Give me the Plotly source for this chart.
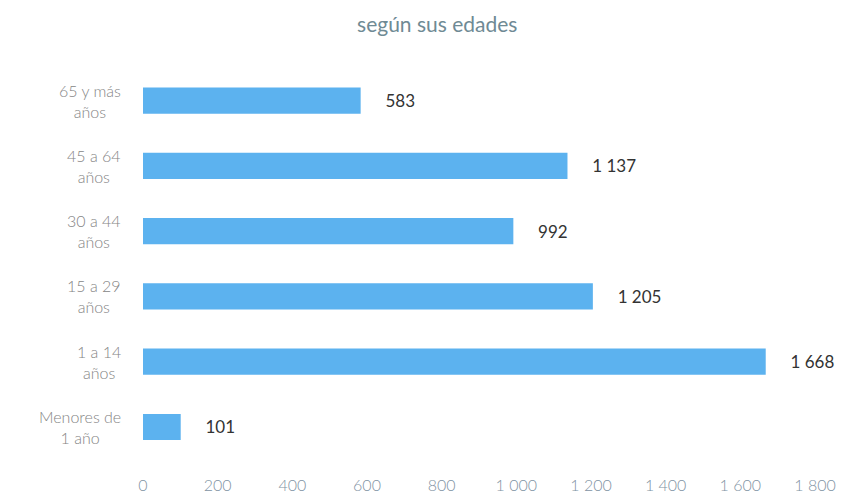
import plotly.graph_objects as go

edades = ["Menores de<br>1 año", "1 a 14<br>años", "15 a 29<br>años", "30 a 44<br>años",
          "45 a 64<br>años", "65 y más<br>años"]
personas = [101, 1668, 1205, 992, 1137, 583]
ticks_x = [0, 200, 400, 600, 800, 1000, 1200, 1400, 1600, 1800]

fig = go.Figure(go.Bar(
    y=edades, x=personas, orientation="h",
    marker=dict(color="#5CB2EF", line=dict(width=0)),
    texttemplate="     %{x:,d}", textposition="outside",
    textfont=dict(family="Lato", size=17, color="#333333"),
    cliponaxis=False, constraintext="none", width=0.4,
))

# etiquetas de edad centradas en dos lineas
for e in edades:
    fig.add_annotation(x=0, xref="paper", y=e, yref="y", xanchor="right", xshift=-20,
                       text=e, showarrow=False, align="center",
                       font=dict(family="Lato", size=16, color="#858585", weight=300))

fig.update_layout(
    width=845, height=495,
    margin=dict(l=135, r=38, t=60, b=33),
    paper_bgcolor="white", plot_bgcolor="white",
    separators=", ",
    showlegend=False,
    title=dict(text="según sus edades", x=0.508, xanchor="center", y=0.966, yanchor="middle",
               automargin=False,
               font=dict(family="Lato", size=21, color="#6F8A94")),
    xaxis=dict(range=[0, 1800], tickvals=ticks_x, tickformat=",d", showgrid=False,
               zeroline=False, showline=False, automargin=False, ticklabelstandoff=4,
               tickfont=dict(family="Lato", size=16, color="#7F93A3", weight=300)),
    yaxis=dict(range=[-0.66, 5.5], showgrid=False, zeroline=False, showline=False,
               showticklabels=False, automargin=False),
    bargap=0.6,
)

fig.write_html("out.html")
